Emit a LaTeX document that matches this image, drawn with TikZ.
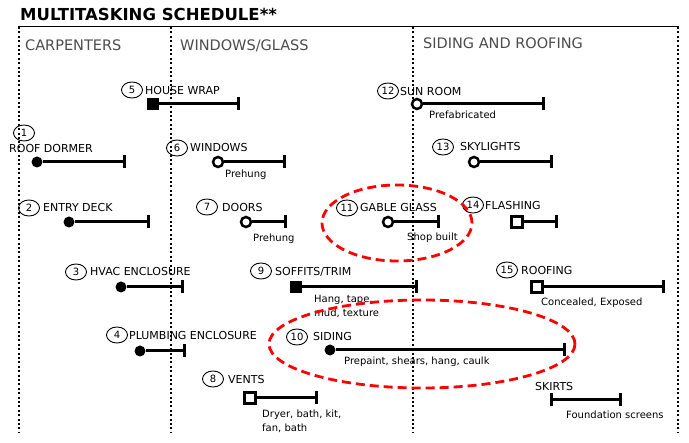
\documentclass[tikz,border=0pt]{standalone}
\usepackage{fontspec}
\setmainfont{DejaVu Sans}
\usetikzlibrary{shapes.geometric, arrows.meta, positioning}

\begin{document}
\begin{tikzpicture}[
    x=1pt, y=-1pt,
    num/.style={ellipse, draw=black, line width=0.9pt, minimum width=21pt, minimum height=16pt, inner sep=0pt, font=\fontsize{10}{11}\selectfont},
    task/.style={anchor=base west, inner sep=0pt, font=\fontsize{11}{13}\selectfont},
    note/.style={anchor=base west, inner sep=0pt, align=left, font=\fontsize{10}{14}\selectfont},
    head/.style={anchor=base west, inner sep=0pt, text=black!70, font=\fontsize{14.5}{16}\selectfont},
    dot/.style={circle, fill=black, minimum size=11pt, inner sep=0pt},
    ring/.style={circle, draw=black, line width=2.5pt, fill=white, minimum size=10pt, inner sep=0pt},
    blk/.style={rectangle, fill=black, minimum size=12pt, inner sep=0pt},
    box/.style={rectangle, draw=black, line width=2.5pt, fill=white, minimum size=11pt, inner sep=0pt},
    bar/.style={line width=3pt, -{Bar[width=13pt]}},
    divider/.style={line width=2pt, dash pattern=on 2pt off 2.4pt},
    hilite/.style={draw=red, line width=2.8pt, dash pattern=on 9pt off 5pt}
]
    \useasboundingbox (0,0) rectangle (689,443);

    % Title and columns
    \node[anchor=base west, inner sep=0pt, font=\bfseries\fontsize{16.5}{18}\selectfont] (title) at (20,21) {MULTITASKING SCHEDULE**};
    \draw[line width=0.9pt] (18,26) -- (679,26);
    \draw[divider] (19,27) -- (19,433);
    \draw[divider] (171,27) -- (171,433);
    \draw[divider] (413,27) -- (413,433);
    \draw[divider] (678,27) -- (678,433);
    \node[head] (carp) at (25,51) {CARPENTERS};
    \node[head] (glass) at (180,51) {WINDOWS/GLASS};
    \node[head] (roof) at (423,49) {SIDING AND ROOFING};

    % Task numbers
    \node[num] (n1) at (24,133) {1};
    \node[num] (n2) at (29,208) {2};
    \node[num] (n3) at (76,272) {3};
    \node[num] (n4) at (117,335) {4};
    \node[num] (n5) at (132,90) {5};
    \node[num] (n6) at (177,148) {6};
    \node[num] (n7) at (207,207) {7};
    \node[num] (n8) at (213,379) {8};
    \node[num] (n9) at (261,271) {9};
    \node[num] (n10) at (297,337) {10};
    \node[num] (n11) at (347,208) {11};
    \node[num] (n12) at (388,91) {12};
    \node[num] (n13) at (443,147) {13};
    \node[num] (n14) at (473,205) {14};
    \node[num] (n15) at (507,270) {15};

    % Task names
    \node[task] (t1) at (9,153) {ROOF DORMER};
    \node[task] (t2) at (43,212) {ENTRY DECK};
    \node[task] (t3) at (90,276) {HVAC ENCLOSURE};
    \node[task] (t4) at (129,340) {PLUMBING ENCLOSURE};
    \node[task] (t5) at (145,95) {HOUSE WRAP};
    \node[task] (t6) at (190,152) {WINDOWS};
    \node[task] (t7) at (222,212) {DOORS};
    \node[task] (t8) at (228,384) {VENTS};
    \node[task] (t9) at (275,276) {SOFFITS/TRIM};
    \node[task] (t10) at (313,341) {SIDING};
    \node[task] (t11) at (360,212) {GABLE GLASS};
    \node[task] (t12) at (400,96) {SUN ROOM};
    \node[task] (t13) at (460,151) {SKYLIGHTS};
    \node[task] (t14) at (485,210) {FLASHING};
    \node[task] (t15) at (521,275) {ROOFING};
    \node[task] (t16) at (535,391) {SKIRTS};

    % Start markers and end points
    \node[dot] (m1) at (37,162) {};
    \node[dot] (m2) at (69,222) {};
    \node[dot] (m3) at (121,287) {};
    \node[dot] (m4) at (140,351) {};
    \node[blk] (m5) at (153,104) {};
    \node[ring] (m6) at (218,162) {};
    \node[ring] (m7) at (246,222) {};
    \node[box] (m8) at (250,398) {};
    \node[blk] (m9) at (296,287) {};
    \node[dot] (m10) at (330,350) {};
    \node[ring] (m11) at (388,222) {};
    \node[ring] (m12) at (417,104) {};
    \node[ring] (m13) at (474,162) {};
    \node[box] (m14) at (517,222) {};
    \node[box] (m15) at (537,287) {};
    \coordinate (m16) at (550,400);
    \coordinate (e1) at (126,162);
    \coordinate (e2) at (150,222);
    \coordinate (e3) at (184,287);
    \coordinate (e4) at (186,351);
    \coordinate (e5) at (240,104);
    \coordinate (e6) at (286,162);
    \coordinate (e7) at (287,222);
    \coordinate (e8) at (318,398);
    \coordinate (e9) at (418,287);
    \coordinate (e10) at (566,350);
    \coordinate (e11) at (440,222);
    \coordinate (e12) at (545,104);
    \coordinate (e13) at (553,162);
    \coordinate (e14) at (558,222);
    \coordinate (e15) at (665,287);
    \coordinate (e16) at (622,400);

    % Bars
    \draw[bar] (m1) -- (e1);
    \draw[bar] (m2) -- (e2);
    \draw[bar] (m3) -- (e3);
    \draw[bar] (m4) -- (e4);
    \draw[bar] (m5) -- (e5);
    \draw[bar] (m6) -- (e6);
    \draw[bar] (m7) -- (e7);
    \draw[bar] (m8) -- (e8);
    \draw[bar] (m9) -- (e9);
    \draw[bar] (m10) -- (e10);
    \draw[bar] (m11) -- (e11);
    \draw[bar] (m12) -- (e12);
    \draw[bar] (m13) -- (e13);
    \draw[bar] (m14) -- (e14);
    \draw[bar] (m15) -- (e15);
    \draw[bar, {Bar[width=13pt]}-{Bar[width=13pt]}] (m16) -- (e16);

    % Notes
    \node[note] (s6) at (225,178) {Prehung};
    \node[note] (s7) at (253,242) {Prehung};
    \node[note] (s8) at (262,432) {Dryer, bath, kit,\\fan, bath};
    \node[note] (s9) at (314,317) {Hang, tape,\\mud, texture};
    \node[note] (s10) at (344,365) {Prepaint, shears, hang, caulk};
    \node[note] (s11) at (407,241) {Shop built};
    \node[note] (s12) at (429,119) {Prefabricated};
    \node[note] (s15) at (541,306) {Concealed, Exposed};
    \node[note] (s16) at (566,419) {Foundation screens};

    % Highlights
    \draw[hilite] (397,223) ellipse [x radius=75pt, y radius=38pt];
    \draw[hilite] (422,344) ellipse [x radius=153pt, y radius=44pt];
\end{tikzpicture}
\end{document}
